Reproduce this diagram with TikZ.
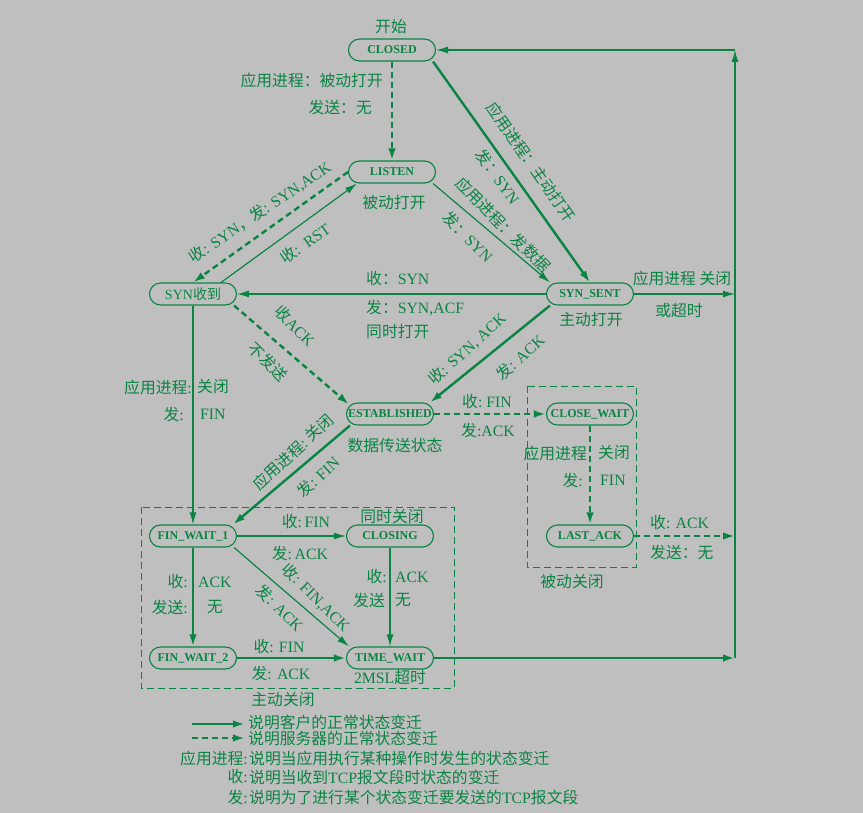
\documentclass[tikz,border=0pt]{standalone}
\usepackage{fontspec}
\setmainfont{Liberation Serif}
\newfontfamily\cjk{Noto Sans CJK SC}
\usetikzlibrary{arrows.meta}
\definecolor{tcpgreen}{HTML}{0A8443}
\definecolor{paper}{HTML}{BFBFBF}
\newcommand{\zh}[1]{{\cjk #1}}

\begin{document}
\begin{tikzpicture}[x=1pt, y=-1pt,
  tcpstate/.style={draw=tcpgreen, line width=1.1pt, rounded corners=11pt, minimum width=87pt,
    minimum height=22pt, inner sep=0pt, text=tcpgreen, font=\fontsize{12}{14}\selectfont\bfseries},
  lbl/.style={text=tcpgreen, inner sep=0pt, font=\fontsize{15.8}{18}\selectfont},
  clientarrow/.style={draw=tcpgreen, line width=2.4pt, -{Latex[length=12pt,width=7.5pt]}},
  serverarrow/.style={clientarrow, dash pattern=on 6pt off 4pt},
  plainarrow/.style={draw=tcpgreen, line width=1.2pt, -{Latex[length=12pt,width=7pt]}},
  grp/.style={draw=tcpgreen, line width=0.9pt, dash pattern=on 7pt off 4pt}]

% ---- page ---------------------------------------------------------------
\fill[paper] (0,0) rectangle (863,813);
\useasboundingbox (0,0) rectangle (863,813);

% ---- groups (behind the states) -----------------------------------------
\draw[grp] (141,507) rectangle (454,688);
\draw[grp] (527,386) rectangle (636,567);

% ---- states -------------------------------------------------------------
\node[tcpstate] (closed) at (392,50) {CLOSED};
\node[tcpstate] (listen) at (392,172) {LISTEN};
\node[tcpstate, font=\fontsize{14}{16}\selectfont] (synrcvd) at (193,294) {SYN\zh{收到}};
\node[tcpstate] (synsent) at (590,294) {SYN\_SENT};
\node[tcpstate] (estab) at (390,414) {ESTABLISHED};
\node[tcpstate] (closewait) at (590,414) {CLOSE\_WAIT};
\node[tcpstate] (lastack) at (590,536) {LAST\_ACK};
\node[tcpstate] (finwait1) at (193,536) {FIN\_WAIT\_1};
\node[tcpstate] (closing) at (390,536) {CLOSING};
\node[tcpstate] (finwait2) at (193,658) {FIN\_WAIT\_2};
\node[tcpstate] (timewait) at (390,658) {TIME\_WAIT};

\coordinate (rtop) at (735,50);
\coordinate (rsent) at (735,294);
\coordinate (rlast) at (735,536);
\coordinate (rtime) at (735,658);

% ---- transitions --------------------------------------------------------
\draw[serverarrow] (closed) -- (listen);
\draw[clientarrow] ([xshift=-3pt]closed.south east) -- (synsent.north);
\draw[plainarrow] ([xshift=-3pt]listen.south east) -- ([xshift=4pt]synsent.north west);
\draw[plainarrow] (synsent) -- (synrcvd);
\draw[serverarrow] (listen.west) -- (synrcvd.north);
\draw[plainarrow] ([xshift=-16pt]synrcvd.north east) -- ([xshift=9pt]listen.south west);
\draw[serverarrow] ([xshift=-3pt]synrcvd.south east) -- ([xshift=3pt,yshift=-2pt]estab.north west);
\draw[clientarrow] ([xshift=4pt]synsent.south west) -- ([xshift=-4pt]estab.north east);
\draw[plainarrow] (synrcvd) -- (finwait1);
\draw[clientarrow] ([xshift=4pt]estab.south west) -- ([xshift=-4pt]finwait1.north east);
\draw[serverarrow] (estab) -- (closewait);
\draw[serverarrow] (closewait) -- (lastack);
\draw[serverarrow] (lastack) -- (rlast);
\draw[plainarrow] (finwait1) -- (closing);
\draw[plainarrow] ([xshift=-3pt]finwait1.south east) -- ([xshift=3pt]timewait.north west);
\draw[clientarrow] (finwait1) -- (finwait2);
\draw[plainarrow] (closing) -- (timewait);
\draw[clientarrow] (finwait2) -- (timewait);
\draw[clientarrow] (timewait) -- (rtime);
\draw[plainarrow] (synsent) -- (rsent);
\draw[plainarrow] (rtime) -- (rtop);
\draw[plainarrow] (rtop) -- (closed);

% ---- labels -------------------------------------------------------------
\node[lbl] (start) at (391,27) {\zh{开始}};
\node[lbl, anchor=east] (passopen) at (383,80) {\zh{应用进程：被动打开}};
\node[lbl, anchor=east] (passsend) at (372,107) {\zh{发送：无}};
\node[lbl, rotate=-55] (actopen) at (531,162) {\zh{应用进程：主动打开}};
\node[lbl, rotate=-55] (actsyn) at (498,177) {\zh{发：}SYN};
\node[lbl, rotate=-45] (datasend) at (503,225) {\zh{应用进程：发数据}};
\node[lbl, rotate=-45] (datasyn) at (468,237) {\zh{发：}SYN};
\node[lbl, rotate=34] (rcvsyn) at (260,212) {\zh{收}: SYN\zh{，发}: SYN,ACK};
\node[lbl, rotate=35] (rcvrst) at (305,243) {\zh{收}:\ \ RST};
\node[lbl] (passive) at (394,203) {\zh{被动打开}};
\node[lbl, anchor=west] (simsyn) at (366,279) {\zh{收：}SYN};
\node[lbl, anchor=west] (simack) at (366,308) {\zh{发：}SYN,ACF};
\node[lbl, anchor=west] (simopen) at (366,332) {\zh{同时打开}};
\node[lbl] (active) at (591,320) {\zh{主动打开}};
\node[lbl] (sentclose) at (682,278) {\zh{应用进程 关闭}};
\node[lbl] (timeout) at (679,311) {\zh{或超时}};
\node[lbl, rotate=-45] (rcvack) at (295,326) {\zh{收}ACK};
\node[lbl, rotate=-45] (nosend) at (268,362) {\zh{不发送}};
\node[lbl, rotate=42] (rcvsynack) at (467,349) {\zh{收}: SYN, ACK};
\node[lbl, rotate=42] (sendack) at (520,357) {\zh{发}: ACK};
\node[lbl, anchor=east] (rcvdapp) at (192,387) {\zh{应用进程}:};
\node[lbl, anchor=west] (rcvdclose) at (197,387) {\zh{关闭}};
\node[lbl, anchor=east] (rcvdsend) at (184,414) {\zh{发}:};
\node[lbl, anchor=west] (rcvdfin) at (200,414) {FIN};
\node[lbl] (datastate) at (395,445) {\zh{数据传送状态}};
\node[lbl, rotate=43] (estclose) at (293,452) {\zh{应用进程}:\ \zh{关闭}};
\node[lbl, rotate=43] (estfin) at (318,477) {\zh{发}: FIN};
\node[lbl] (estrcvfin) at (487,402) {\zh{收}:\ FIN};
\node[lbl] (estsendack) at (488,430) {\zh{发}:ACK};
\node[lbl, anchor=east] (cwapp) at (587,453) {\zh{应用进程}};
\node[lbl, anchor=west] (cwclose) at (598,453) {\zh{关闭}};
\node[lbl, anchor=east] (cwsend) at (583,480) {\zh{发}:};
\node[lbl, anchor=west] (cwfin) at (600,480) {FIN};
\node[lbl, anchor=west] (larcv) at (650,523) {\zh{收}: ACK};
\node[lbl, anchor=west] (lasend) at (650,552) {\zh{发送：无}};
\node[lbl] (passclose) at (572,581) {\zh{被动关闭}};
\node[lbl] (simclose) at (392,517) {\zh{同时关闭}};
\node[lbl] (fwrcvfin) at (306,522) {\zh{收}:\,FIN};
\node[lbl] (fwsendack) at (300,553) {\zh{发}:\,ACK};
\node[lbl, rotate=-45] (fwrcvfinack) at (316,598) {\zh{收}: FIN,ACK};
\node[lbl, rotate=-45] (fwsendack2) at (280,608) {\zh{发}: ACK};
\node[lbl, anchor=east] (fw1rcv) at (188,582) {\zh{收}:};
\node[lbl, anchor=west] (fw1ack) at (198,582) {ACK};
\node[lbl, anchor=east] (fw1send) at (188,607) {\zh{发送}:};
\node[lbl, anchor=west] (fw1none) at (207,607) {\zh{无}};
\node[lbl, anchor=east] (clrcv) at (387,577) {\zh{收}:};
\node[lbl, anchor=west] (clack) at (395,577) {ACK};
\node[lbl, anchor=east] (clsend) at (385,600) {\zh{发送}};
\node[lbl, anchor=west] (clnone) at (395,600) {\zh{无}};
\node[lbl] (fw2rcv) at (279,647) {\zh{收}: FIN};
\node[lbl] (fw2send) at (281,673) {\zh{发}: ACK};
\node[lbl] (msl) at (390,678) {2MSL\zh{超时}};
\node[lbl] (actclose) at (283,700) {\zh{主动关闭}};

% ---- legend -------------------------------------------------------------
\coordinate (key0) at (192,724);
\coordinate (key1) at (245,724);
\coordinate (key2) at (192,738);
\coordinate (key3) at (245,738);
\draw[clientarrow] (key0) -- (key1);
\draw[serverarrow] (key2) -- (key3);
\node[lbl, anchor=west] (clientnote) at (248,722) {\zh{说明客户的正常状态变迁}};
\node[lbl, anchor=west] (servernote) at (248,738) {\zh{说明服务器的正常状态变迁}};
\node[lbl, anchor=east] (appkey) at (248,758) {\zh{应用进程}:};
\node[lbl, anchor=west] (appnote) at (249,758) {\zh{说明当应用执行某种操作时发生的状态变迁}};
\node[lbl, anchor=east] (rcvkey) at (248,777) {\zh{收}:};
\node[lbl, anchor=west] (rcvnote) at (249,777) {\zh{说明当收到}TCP\zh{报文段时状态的变迁}};
\node[lbl, anchor=east] (sendkey) at (248,797) {\zh{发}:};
\node[lbl, anchor=west] (sendnote) at (249,797) {\zh{说明为了进行某个状态变迁要发送的}TCP\zh{报文段}};
\end{tikzpicture}
\end{document}
